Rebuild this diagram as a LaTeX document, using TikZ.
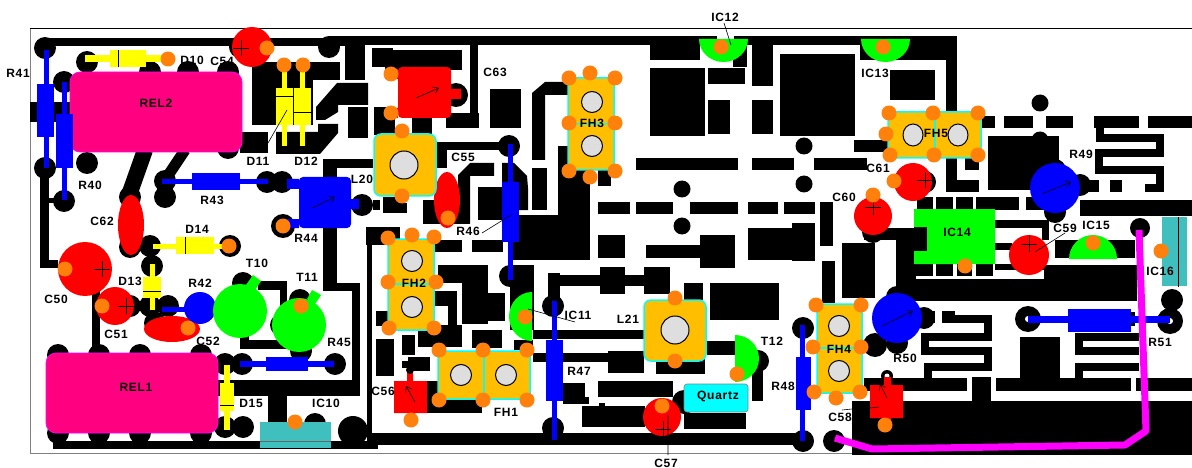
\documentclass[tikz,border=0pt]{standalone}
\usepackage{fontspec}
\usetikzlibrary{arrows.meta}
\setmainfont[LetterSpace=6]{Liberation Sans}
\definecolor{pk}{RGB}{255,0,128}
\definecolor{gold}{RGB}{255,191,0}
\definecolor{orng}{RGB}{255,128,10}
\definecolor{teal2}{RGB}{64,191,191}
\definecolor{cy}{RGB}{0,255,255}
\definecolor{mg}{RGB}{255,0,255}
\definecolor{yl}{RGB}{255,255,0}
\newcommand{\lab}[2]{\node[lab] (t#1) at (#2) {#1};}
\newcommand{\blk}[1]{\foreach \ax/\ay/\bx/\by in {#1} \fill[black] (\ax,\ay) rectangle (\bx,\by);}
\newcommand{\pads}[2]{\foreach \ax/\ay in {#2} \fill[black] (\ax,\ay) circle[radius=#1];}
\newcommand{\orgdots}[2]{\foreach \ax/\ay in {#2} \fill[orng] (\ax,\ay) circle[radius=#1];}
\newcommand{\discs}[2]{\foreach \ax/\ay/\rr in {#2} \fill[#1] (\ax,\ay) circle[radius=\rr];}
\newcommand{\holes}[2]{\foreach \ax/\ay in {#2} \filldraw[fill=black!13,draw=black,line width=1pt] (\ax,\ay) circle[radius=#1];}
\newcommand{\pluss}[1]{\foreach \ax/\ay in {#1} \draw[black,line width=.7pt] (\ax-8,\ay) -- (\ax+8,\ay) (\ax,\ay-8) -- (\ax,\ay+8);}
\begin{document}
\begin{tikzpicture}[x=1pt,y=-1pt,
  lab/.style={font=\bfseries\fontsize{12}{12}\selectfont,text=black,inner sep=0pt},
  trace/.style={black,line width=8pt,line join=miter},
  lead/.style={black,line width=.6pt},
  res/.style={blue,line width=5pt},
  dio/.style={yl,line width=5pt},
  gbox/.style={fill=gold,draw=cy,line width=1.5pt,rounded corners=1pt},
  rel/.style={fill=pk,draw=mg,line width=.7pt,rounded corners=10pt}]
\useasboundingbox (0,0) rectangle (1192,468);
\fill[white] (0,0) rectangle (1192,468);
% frame
\draw[black!50,line width=1pt] (30,28) -- (30,453) -- (852,453);
\draw[black,line width=.8pt] (30,28) -- (1192,28);
% ---- copper: long traces
\blk{45/38/345/46,330/36/400/45,400/36/717/45,734/36/875/45,894/36/957/45,
 40/168/49/268,40/260/58/268,30/102/70/122,45/198/64/203,
 345/36/365/80,252/62/340/80,252/62/313/125,
 372/48/393/67,385/50/462/70,348/107/368/138,374/107/395/135,470/36/478/127,446/113/479/128,
 240/132/268/153,412/118/432/134,
 323/159/373/168,323/159/337/291,323/283/360/291,352/283/360/396,218/380/360/396,268/396/287/425,
 92/285/100/355,258/281/287/290,280/281/287/310,240/340/290/349,240/320/249/349,
 53/441/378/449,367/433/802/445,367/245/372/433,367/235/400/245,
 383/197/400/213,366/227/400/245,373/200/380/210,
 490/89/521/128,532/168/547/210,558/146/570/213,558/170/590/215,513/215/590/260,598/170/611/186,
 598/202/630/214,636/202/673/214,690/202/738/214,748/202/778/214,784/202/815/214,
 636/158/738/170,752/158/794/170,814/158/867/170,
 650/68/705/136,708/68/745/84,708/100/730/134,752/44/773/86,752/100/773/134,780/54/855/136,
 650/36/700/60,733/45/747/67,860/36/957/60,890/70/935/100,946/60/957/115,854/140/890/152,
 980/116/995/128,1004/116/1033/128,1046/116/1073/128,1094/116/1139/128,1148/116/1192/128,
 988/136/1059/190,1085/180/1099/192,1110/180/1122/192,
 946/158/957/192,955/180/979/192,965/158/979/170,
 917/197/933/210,936/197/953/210,956/197/973/210,976/197/993/210,992/197/1019/210,1026/197/1049/210,1080/200/1192/216,
 820/202/833/246,822/261/835/303,792/202/812/213,792/223/815/261,842/243/875/298,
 896/228/916/300,864/228/914/240,914/227/930/251,
 995/220/1049/228,1042/220/1049/240,995/243/1012/250,995/264/1044/270,
 916/264/933/276,936/264/953/276,957/264/972/276,976/264/993/276,
 914/279/1044/301,1044/265/1137/301,1055/240/1135/258,
 923/311/935/323,942/311/955/323,1020/337/1060/378,
 864/378/967/391,972/377/991/401,996/378/1131/391,1136/378/1192/391,852/401/1192/455,
 1131/312/1135/326,
 598/235/625/258,646/245/700/258,700/235/735/268,748/228/800/260,
 438/265/488/283,462/283/488/324,488/293/505/321,510/265/534/291,510/291/534/330,
 435/291/457/306,448/306/457/325,418/325/462/347,472/330/502/348,514/340/533/350,
 402/335/415/355,408/357/430/371,402/361/408/368,427/381/438/413,427/400/482/413,
 533/330/645/339,548/273/560/300,548/275/670/286,600/267/625/294,644/267/670/294,
 533/353/608/362,608/351/644/373,563/383/585/404,563/397/589/404,598/381/673/397,
 582/406/645/427,599/403/605/406,656/356/705/374,684/283/703/300,710/283/779/320,
 707/341/735/355,752/361/763/401,684/413/746/429,
 400/203/407/213,435/240/462/252,472/240/503/252,376/311/392/326,376/339/394/376,
 440/142/500/150,437/142/447/168,423/200/470/224,478/187/502/220}
\fill[black] (337,83) -- (368,83) -- (368,105) -- (338,105) -- (338,112) -- (325,120) -- (316,120) -- (316,107) -- cycle;
\fill[black] (318,124) -- (338,124) -- (338,133) -- (320,154) -- (276,154) -- (276,132) -- (318,132) -- cycle;
\fill[black] (532,93) -- (545,82) -- (568,82) -- (568,95) -- (545,95) -- (545,160) -- (532,160) -- cycle;
\fill[black] (458,175) -- (470,163) -- (494,163) -- (494,176) -- (470,176) -- (470,223) -- (458,223) -- cycle;
\fill[black] (502,163) -- (514,163) -- (527,176) -- (528,188) -- (528,210) -- (502,210) -- cycle;
\draw[black,line width=16pt] (145,150) -- (128,198);
\draw[black,line width=11pt] (185,150) -- (165,180);
\draw[trace] (1100,128) -- (1100,138) -- (1160,138) -- (1160,153) -- (1099,153) -- (1099,170) -- (1160,170) -- (1160,188) -- (1145,188);
\draw[trace] (945,319) -- (988,319) -- (988,336.5) -- (925,336.5) -- (925,351) -- (988,351) -- (988,367) -- (928,367) -- (928,385);
\draw[trace] (1139,337) -- (1079,337) -- (1079,351) -- (1139,351) (1139,367) -- (1079,367) -- (1079,385);
% pads
\pads{11}{45/48,87/62,64/82,87/163,45/168,64/201,150/72,188/72,228/72,228/148,165/181,165/197,267/182,282/182,130/197,
 130/247,150/246,230/246,152/266,150/306,168/306,155/323,130/306,58/433,99/433,140/433,201/433,225/427,243/427,
 58/355,99/355,140/355,201/355,225/364,242/364,335/364,243/283,300/300,281/325,301/351,329/47,240/47,362/205,
 315/424,509/146,553/306,553/428,510/276,834/441,803/441,803/328,897/343,897/297,924/318,1055/170,1055/212,925/182,1080/185,
 873/232,758/361,1172/300}
\pads{12}{283/226,875/345,456/95,684/402}
\pads{15}{353/431}
\pads{8.5}{682/189,682/226,804/146,804/184,1040/103,1040/140}
\pads{10}{1140/228}
\pads{13}{1028/319,1170/321}
\fill[white] (1028,319) circle[radius=3] (1170,321) circle[radius=3];
% relays
\draw[rel] (70,72) rectangle (242,152);
\draw[rel] (46,353) rectangle (218,433);
% resistors
\draw[res] (46,50) -- (46,168); \fill[blue] (37,84) rectangle (54,137);
\draw[res] (64,82) -- (64,200); \fill[blue] (56,114) rectangle (73,168);
\draw[res] (162,182) -- (268,182); \fill[blue] (192,173) rectangle (240,190);
\draw[res,line width=6pt] (240,364) -- (334,364); \fill[blue] (266,357) rectangle (308,371);
\draw[res] (510,144) -- (510,280); \fill[blue] (502,182) rectangle (519,242);
\draw[res] (554,301) -- (554,440); \fill[blue] (546,340) rectangle (563,401);
\draw[res] (802,325) -- (802,441); \fill[blue] (796,357) rectangle (811,410);
\draw[res,line width=7pt] (1028,319) -- (1170,319); \fill[blue] (1068,309) rectangle (1131,332);
\draw[res] (162,309) -- (185,309);
% diodes
\draw[dio,line width=7pt] (85,59) -- (165,59); \fill[yl] (110,50) rectangle (146,67); \draw[black] (118,50) -- (118,67);
\draw[dio] (284,65) -- (284,146); \fill[yl] (276,88) rectangle (293,125); \draw[black] (276,96) -- (293,96);
\draw[dio] (302,65) -- (302,146); \fill[yl] (294,88) rectangle (311,125); \draw[black] (294,112) -- (311,112);
\draw[dio] (153,246) -- (230,246); \fill[yl] (176,237) rectangle (214,254); \draw[black] (185,237) -- (185,254);
\draw[dio] (152,264) -- (152,310); \fill[yl] (143,277) rectangle (161,298); \draw[black] (143,291) -- (161,291);
\draw[dio,line width=6pt] (227,365) -- (227,430); \fill[yl] (220,383) rectangle (234,411); \draw[black] (220,405) -- (234,405);
% capacitors
\discs{red}{252/47/20,85/269/27,115/306/19,662/417/19,913/182/19,873/216/19,1029/255/20}
\fill[red] (131,225) ellipse[x radius=13,y radius=30];
\fill[red] (172,329) ellipse[x radius=28,y radius=13];
\fill[red] (447,200) ellipse[x radius=13,y radius=28];
\pluss{241/48,102/269,126/306,663/429,925/180,873/207,1029/244}
% transformers / blue
\fill[blue,rounded corners=4pt] (299,177) rectangle (351,228);
\fill[blue] (287,179) rectangle (299,189) (351,199) rectangle (359,209) (287,219) rectangle (299,228);
\fill[red,rounded corners=4pt] (398,67) rectangle (451,118);
\fill[red] (385,69) rectangle (398,79) (451,89) rectangle (461,99) (385,108) rectangle (398,118);
\discs{blue}{200/308/16,1055/188/25,897/318/25}
\fill[red] (394,381) rectangle (427,413) (407,373) rectangle (413,381) (408,413) rectangle (415,420);
\fill[black] (410,370) circle[radius=4];
\fill[black] (887,376) circle[radius=6];
\fill[white] (887,376) circle[radius=2.5];
\fill[red] (870,385) rectangle (903,418) (884,377) rectangle (891,385) (884,418) rectangle (891,425);
\foreach \ax/\ay/\bx/\by in {312/208/335/197,416/98/439/88,1042/194/1071/182,882/326/913/311,887/398/880/384,415/402/406/386}{
  \draw[black,line width=.6pt,-{Straight Barb[length=5pt,width=7pt]}] (\ax,\ay) -- (\bx,\by);}
% green
\fill[green] (240,311) circle[radius=27] (299,325) circle[radius=27];
\fill[green] (246,285) -- (253,275) -- (261,281) -- (255,290) -- cycle;
\fill[green] (307,299) -- (312,290) -- (321,295) -- (315,304) -- cycle;
\fill[green] (914,209) -- (995,209) -- (995,264) -- (914,264) -- (914,251) -- (927,251) -- (927,227) -- (914,227) -- cycle;
\fill[green] (699,39) arc[start angle=180,end angle=0,x radius=24.5,y radius=23] -- cycle;
\fill[green] (861,39) arc[start angle=180,end angle=0,x radius=24.5,y radius=23] -- cycle;
\fill[green] (1069,259) arc[start angle=180,end angle=360,x radius=24,y radius=24] -- cycle;
\fill[green] (532,292) arc[start angle=90,end angle=270,x radius=23,y radius=-24.5] -- cycle;
\fill[green] (735,335) arc[start angle=90,end angle=-90,x radius=24,y radius=-23.5] -- cycle;
% gold filters
\draw[gbox,rounded corners=7pt] (374,134) rectangle (436,196);
\draw[gbox,rounded corners=7pt] (644,300) rectangle (706,361);
\draw[gbox] (388,239) rectangle (434,284); \draw[gbox] (388,284) rectangle (434,330);
\draw[gbox] (568,78) rectangle (614,124); \draw[gbox] (568,124) rectangle (614,170);
\draw[gbox] (438,351) rectangle (484,399); \draw[gbox] (484,351) rectangle (530,399);
\draw[gbox] (817,304) rectangle (862,348); \draw[gbox] (817,348) rectangle (862,393);
\draw[gbox] (888,112) rectangle (935,158); \draw[gbox] (935,112) rectangle (981,158);
\holes{14}{404/165,675/330}
\holes{10.5}{412/261,412/307,592/102,592/146,461/375,506/375,839/326,839/371}
\filldraw[fill=black!13,draw=black,line width=1pt] (913,135) ellipse[x radius=10,y radius=11] (958,135) ellipse[x radius=10,y radius=11];
% teal
\fill[teal2] (260,422) rectangle (331,448); \draw[black!60,line width=.6pt] (260,441) -- (331,441);
\fill[teal2] (1162,217) rectangle (1187,286); \draw[black,line width=.7pt] (1178,217) -- (1178,287);
% quartz
\filldraw[fill=cy,draw=black!50,line width=.6pt,rounded corners=3pt] (684,384) rectangle (748,412);
% magenta wire
\draw[mg,line width=7pt,line join=round] (1139,230) -- (1146,431) -- (1125,445) -- (872,449) -- (835,438);
% orange dots
\orgdots{7.5}{168/59,267/48,284/65,303/65,65/269,102/306,229/246,188/328,301/306,283/226,391/74,391/113,402/131,402/196,
 448/218,662/406,737/374,675/298,675/361,525/317,721/47,883/47,873/195,894/181,1093/243,965/266,885/425,411/420,1161/251,295/422,
 569/78,590/73,615/78,569/123,615/123,569/171,590/177,615/171,
 412/235,434/237,388/238,436/282,388/282,434/328,389/328,
 439/350,483/350,527/350,439/400,483/400,527/400,
 816/305,861/305,813/347,861/347,814/392,836/398,860/392,
 889/113,933/113,978/113,886/134,890/155,934/155,978/155}
% leaders
\draw[lead] (287,110) -- (268,143) (482,233) -- (511,215) (528,309) -- (575,322) (724,23) -- (731,45)
 (668,415) -- (668,455) (1065,233) -- (1035,252) (842,410) -- (852,409) (870,408) -- (879,407);
% labels
\lab{R41}{18,73}\lab{R40}{90,185}\lab{D10}{192,60}\lab{C54}{222,61}\lab{D11}{258,161}\lab{D12}{306,161}
\lab{R43}{212,200}\lab{R44}{306,238}\lab{L20}{362,179}\lab{C62}{102,221}\lab{D14}{197,229}\lab{T10}{257,263}\lab{T11}{307,277}
\lab{D13}{130,281}\lab{R42}{200,283}\lab{C50}{56,299}\lab{C51}{116,334}\lab{C52}{208,341}\lab{R45}{339,342}\lab{D15}{251,403}\lab{IC10}{326,403}
\lab{C56}{383,391}\lab{C63}{495,72}\lab{C55}{463,157}\lab{R46}{468,231}\lab{FH3}{592,123}\lab{FH2}{414,283}\lab{FH1}{506,412}
\lab{IC11}{578,315}\lab{L21}{628,319}\lab{R47}{579,371}\lab{T12}{772,341}\lab{R48}{783,386}\lab{C57}{666,463}\lab{Quartz}{718,396}
\lab{IC12}{725,17}\lab{IC13}{875,73}\lab{FH5}{936,133}\lab{C61}{878,168}\lab{C60}{844,197}\lab{IC14}{957,232}\lab{C59}{1065,228}
\lab{IC15}{1096,225}\lab{R49}{1081,154}\lab{R50}{905,358}\lab{R51}{1160,342}\lab{IC16}{1160,271}\lab{FH4}{839,349}\lab{C58}{840,417}
\lab{REL2}{156,103}\lab{REL1}{136,387}
\end{tikzpicture}
\end{document}
